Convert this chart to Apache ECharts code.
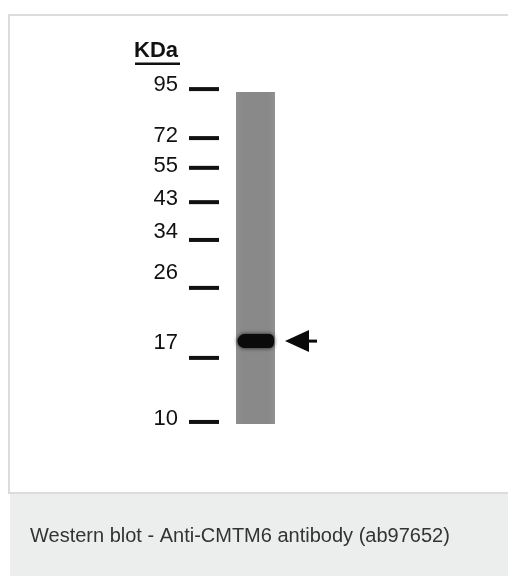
<!DOCTYPE html>
<html>
<head>
<meta charset="utf-8">
<style>
html,body{margin:0;padding:0;background:#fff;}
#main{width:508px;height:576px;}
</style>
<script src="https://cdn.jsdelivr.net/npm/echarts@6/dist/echarts.min.js"></script>
</head>
<body>
<div id="main"></div>
<script>
// ---- data ----
const unitLabel = 'KDa';
const markerLabels = ['95', '72', '55', '43', '34', '26', '17', '10'];
// migration of each marker tick (0 = top of scale, 100 = bottom)
const markerMigration = [2.6, 16.6, 25.1, 34.9, 45.7, 59.4, 79.4, 97.7];
// migration where each marker label is printed
const labelMigration = [1.4, 16.0, 24.6, 34.0, 43.4, 55.1, 75.1, 96.9];
// lane start / end migration
const laneRange = [3.4, 98.3];
// detected band (CMTM6) migration
const bandMigration = [74.6];
const caption = 'Western blot - Anti-CMTM6 antibody (ab97652)';

// ---- layout ----
const TICK_X0 = 189, TICK_X1 = 219;
const LABEL_X = 178;
const LANE_X0 = 236, LANE_X1 = 275;
const ARROW_TIP = 285;

const chart = echarts.init(document.getElementById('main'), null, {renderer: 'canvas'});

const option = {
  animation: false,
  backgroundColor: '#fff',
  grid: {left: 0, right: 0, top: 80, height: 350},
  xAxis: {type: 'value', min: 0, max: 508, show: false},
  yAxis: {type: 'value', min: 0, max: 100, inverse: true, show: false},
  graphic: [
    {type: 'rect', z: -10, shape: {x: 9, y: 15, width: 520, height: 478},
     style: {fill: '#fff', stroke: '#dcdcdc', lineWidth: 2}},
    {type: 'rect', z: -10, shape: {x: 10, y: 494, width: 520, height: 90},
     style: {fill: '#eceeed'}},
    {type: 'text', left: 30, top: 526,
     style: {text: caption, fill: '#333', font: '20px "Liberation Sans", Arial, sans-serif'}},
    {type: 'text', left: 134, top: 40,
     style: {text: unitLabel, fill: '#111', font: 'bold 22px "Liberation Sans", Arial, sans-serif'}},
    {type: 'rect', shape: {x: 135, y: 62.5, width: 45, height: 2.5}, style: {fill: '#111'}}
  ],
  series: [
    {
      type: 'custom',
      name: 'lane',
      data: [laneRange],
      renderItem: function (params, api) {
        const p0 = api.coord([LANE_X0, api.value(0)]);
        const p1 = api.coord([LANE_X1, api.value(1)]);
        return {
          type: 'rect',
          shape: {x: p0[0], y: p0[1], width: p1[0] - p0[0], height: p1[1] - p0[1]},
          style: {
            fill: new echarts.graphic.LinearGradient(0, 0, 1, 0, [
              {offset: 0, color: '#909090'},
              {offset: 0.15, color: '#898989'},
              {offset: 0.85, color: '#898989'},
              {offset: 1, color: '#929292'}
            ])
          }
        };
      }
    },
    {
      type: 'custom',
      name: 'band',
      data: bandMigration.map(v => [v]),
      z: 3,
      renderItem: function (params, api) {
        const c = api.coord([LANE_X0, api.value(0)]);
        const c1 = api.coord([LANE_X1, api.value(0)]);
        return {
          type: 'rect',
          shape: {x: c[0] + 1.5, y: c[1] - 7, width: c1[0] - c[0] - 2.5, height: 14, r: [7, 5, 5, 7]},
          style: {fill: '#0a0a0a', shadowBlur: 4, shadowColor: 'rgba(0,0,0,0.8)'}
        };
      }
    },
    {
      type: 'custom',
      name: 'arrow',
      data: bandMigration.map(v => [v]),
      renderItem: function (params, api) {
        const c = api.coord([ARROW_TIP, api.value(0)]);
        return {
          type: 'group',
          children: [
            {type: 'polygon', shape: {points: [[c[0], c[1]], [c[0] + 24, c[1] - 11], [c[0] + 24, c[1] + 11]]},
             style: {fill: '#0a0a0a'}},
            {type: 'rect', shape: {x: c[0] + 20, y: c[1] - 1.5, width: 12, height: 3},
             style: {fill: '#0a0a0a'}}
          ]
        };
      }
    },
    {
      type: 'custom',
      name: 'marker ticks',
      data: markerMigration.map(v => [v]),
      renderItem: function (params, api) {
        const a = api.coord([TICK_X0, api.value(0)]);
        const b = api.coord([TICK_X1, api.value(0)]);
        return {
          type: 'rect',
          shape: {x: a[0], y: a[1] - 2, width: b[0] - a[0], height: 4},
          style: {fill: '#111'}
        };
      }
    },
    {
      type: 'custom',
      name: 'marker labels',
      data: labelMigration.map((v, i) => [v, markerLabels[i]]),
      renderItem: function (params, api) {
        const a = api.coord([LABEL_X, api.value(0)]);
        return {
          type: 'text',
          x: a[0], y: a[1],
          style: {
            text: markerLabels[params.dataIndex],
            fill: '#111',
            font: '22px "Liberation Sans", Arial, sans-serif',
            align: 'right',
            verticalAlign: 'middle'
          }
        };
      }
    }
  ]
};
chart.setOption(option);
</script>
</body>
</html>
